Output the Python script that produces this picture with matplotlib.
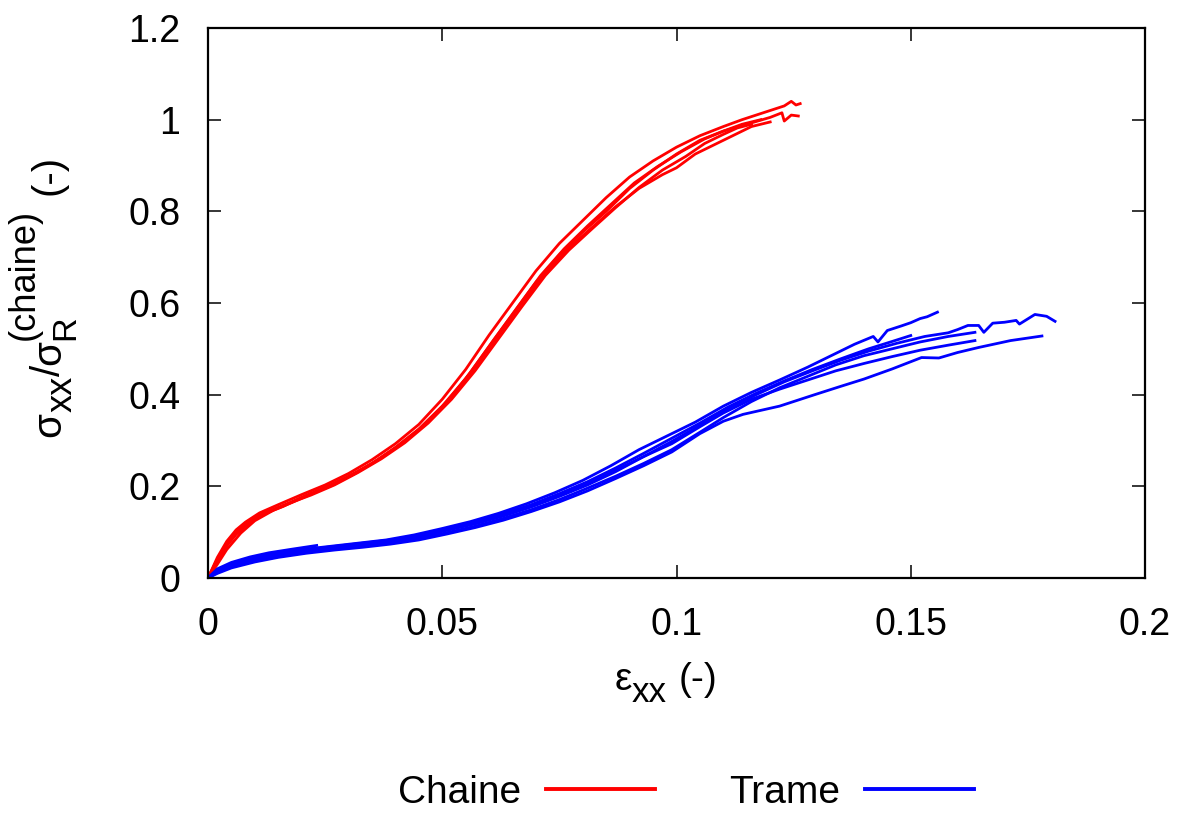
import matplotlib
matplotlib.use("Agg")
import matplotlib.pyplot as plt
from matplotlib.lines import Line2D

# --- donnees (courbes chaine = rouge, trame = bleu) ---
r1_x = [0, 0.002, 0.004, 0.006, 0.008, 0.011, 0.015, 0.02, 0.025, 0.03, 0.035, 0.04, 0.045, 0.05, 0.055,
        0.06, 0.065, 0.07, 0.075, 0.08, 0.085, 0.09, 0.095, 0.1, 0.105, 0.11, 0.114, 0.117, 0.12, 0.123,
        0.1245, 0.1255, 0.1264]
r1_y = [0, 0.045, 0.08, 0.105, 0.122, 0.142, 0.16, 0.182, 0.203, 0.228, 0.258, 0.293, 0.335, 0.39, 0.455,
        0.53, 0.60, 0.67, 0.73, 0.78, 0.83, 0.875, 0.91, 0.94, 0.965, 0.985, 1.0, 1.01, 1.02, 1.03,
        1.04, 1.032, 1.035]

r2_x = [0, 0.002, 0.004, 0.006, 0.009, 0.012, 0.016, 0.02, 0.025, 0.03, 0.035, 0.04, 0.045, 0.05, 0.055,
        0.06, 0.065, 0.07, 0.075, 0.08, 0.085, 0.09, 0.095, 0.1, 0.105, 0.11, 0.115, 0.12, 0.1225, 0.123,
        0.1245, 0.126]
r2_y = [0, 0.035, 0.07, 0.095, 0.122, 0.14, 0.156, 0.176, 0.198, 0.222, 0.25, 0.285, 0.325, 0.375, 0.435,
        0.505, 0.575, 0.645, 0.705, 0.755, 0.80, 0.85, 0.89, 0.925, 0.955, 0.975, 0.99, 1.005, 1.015, 0.997,
        1.01, 1.008]

r3_x = [0, 0.002, 0.004, 0.007, 0.01, 0.014, 0.018, 0.022, 0.027, 0.032, 0.037, 0.042, 0.047, 0.052, 0.057,
        0.062, 0.067, 0.072, 0.077, 0.082, 0.087, 0.092, 0.097, 0.1, 0.104, 0.108, 0.112, 0.116, 0.12]
r3_y = [0, 0.03, 0.062, 0.098, 0.125, 0.148, 0.165, 0.183, 0.205, 0.232, 0.262, 0.298, 0.34, 0.395, 0.46,
        0.53, 0.6, 0.665, 0.72, 0.765, 0.81, 0.85, 0.88, 0.895, 0.925, 0.945, 0.965, 0.985, 0.995]

r4_x = [0, 0.0015, 0.0035, 0.0055, 0.008, 0.012, 0.016, 0.021, 0.026, 0.031, 0.036, 0.041, 0.046, 0.051,
        0.056, 0.061, 0.066, 0.071, 0.076, 0.081, 0.086, 0.091, 0.096, 0.101, 0.106, 0.11, 0.114, 0.118]
r4_y = [0, 0.03, 0.066, 0.095, 0.118, 0.141, 0.158, 0.18, 0.2, 0.226, 0.256, 0.29, 0.332, 0.385,
        0.448, 0.52, 0.59, 0.66, 0.718, 0.768, 0.815, 0.862, 0.898, 0.93, 0.958, 0.975, 0.99, 1.0]

r5_x = [0, 0.002, 0.004, 0.006, 0.009, 0.013, 0.017, 0.022, 0.027, 0.032, 0.037, 0.042, 0.047, 0.052,
        0.057, 0.062, 0.067, 0.072, 0.077, 0.082, 0.087, 0.092, 0.097, 0.102, 0.106, 0.11, 0.113, 0.116]
r5_y = [0, 0.04, 0.072, 0.1, 0.127, 0.146, 0.162, 0.181, 0.203, 0.23, 0.26, 0.295, 0.338, 0.39,
        0.452, 0.522, 0.592, 0.66, 0.715, 0.762, 0.808, 0.852, 0.89, 0.92, 0.948, 0.968, 0.982, 0.99]

bA_x = [0, 0.002, 0.005, 0.009, 0.014, 0.02, 0.026, 0.032, 0.038, 0.044, 0.05, 0.056, 0.062, 0.068, 0.074,
        0.08, 0.086, 0.092, 0.098, 0.104, 0.11, 0.116, 0.122, 0.128, 0.134, 0.138, 0.142, 0.143, 0.145,
        0.148, 0.15, 0.152, 0.1535, 0.1557]
bA_y = [0, 0.017, 0.03, 0.042, 0.053, 0.062, 0.069, 0.076, 0.083, 0.094, 0.108, 0.123, 0.141, 0.162, 0.186,
        0.213, 0.245, 0.28, 0.31, 0.34, 0.375, 0.405, 0.432, 0.46, 0.49, 0.51, 0.527, 0.515, 0.54,
        0.55, 0.557, 0.566, 0.57, 0.58]

bB_x = [0, 0.002, 0.005, 0.01, 0.015, 0.021, 0.027, 0.033, 0.039, 0.045, 0.051, 0.057, 0.063, 0.069, 0.075,
        0.081, 0.087, 0.093, 0.099, 0.105, 0.111, 0.117, 0.123, 0.129, 0.135, 0.141, 0.147, 0.153, 0.158,
        0.16, 0.1622, 0.1645, 0.1656, 0.1675, 0.170, 0.1725, 0.1732, 0.1765, 0.179, 0.1808]
bB_y = [0, 0.014, 0.027, 0.04, 0.05, 0.059, 0.066, 0.073, 0.08, 0.09, 0.104, 0.118, 0.135, 0.155, 0.178,
        0.203, 0.232, 0.265, 0.298, 0.333, 0.37, 0.4, 0.428, 0.452, 0.475, 0.495, 0.512, 0.527, 0.535,
        0.542, 0.551, 0.551, 0.536, 0.556, 0.558, 0.562, 0.554, 0.575, 0.571, 0.56]

bC_x = [0, 0.002, 0.005, 0.01, 0.015, 0.021, 0.027, 0.033, 0.039, 0.045, 0.051, 0.057, 0.063, 0.069, 0.075,
        0.081, 0.087, 0.093, 0.099, 0.105, 0.11, 0.1142, 0.122, 0.1295, 0.135, 0.14, 0.146, 0.1523, 0.156,
        0.16, 0.1645, 0.1713, 0.178]
bC_y = [0, 0.01, 0.022, 0.035, 0.045, 0.054, 0.061, 0.067, 0.074, 0.083, 0.096, 0.11, 0.126, 0.145, 0.166,
        0.19, 0.217, 0.245, 0.275, 0.315, 0.342, 0.357, 0.375, 0.40, 0.418, 0.434, 0.456, 0.481, 0.48,
        0.492, 0.503, 0.518, 0.528]

bD_x = [0, 0.002, 0.005, 0.01, 0.015, 0.021, 0.027, 0.033, 0.039, 0.045, 0.051, 0.057, 0.063, 0.069, 0.075,
        0.081, 0.087, 0.093, 0.099, 0.105, 0.11, 0.116, 0.122, 0.128, 0.134, 0.14, 0.146, 0.152, 0.158, 0.1637]
bD_y = [0, 0.012, 0.025, 0.037, 0.047, 0.056, 0.063, 0.07, 0.077, 0.086, 0.099, 0.113, 0.13, 0.149, 0.171,
        0.196, 0.222, 0.25, 0.28, 0.318, 0.35, 0.385, 0.415, 0.44, 0.465, 0.485, 0.5, 0.515, 0.527, 0.536]

bE_x = [0, 0.002, 0.005, 0.01, 0.015, 0.021, 0.027, 0.033, 0.039, 0.045, 0.051, 0.057, 0.063, 0.069, 0.075,
        0.081, 0.087, 0.093, 0.099, 0.105, 0.11, 0.116, 0.122, 0.128, 0.134, 0.14, 0.146, 0.152, 0.158, 0.1637]
bE_y = [0, 0.016, 0.029, 0.041, 0.051, 0.06, 0.067, 0.074, 0.081, 0.091, 0.105, 0.12, 0.138, 0.158, 0.18,
        0.205, 0.235, 0.265, 0.293, 0.33, 0.36, 0.39, 0.412, 0.432, 0.452, 0.468, 0.483, 0.497, 0.508, 0.518]

bF_x = [0, 0.002, 0.005, 0.01, 0.015, 0.021, 0.027, 0.033, 0.039, 0.045, 0.051, 0.057, 0.063, 0.069, 0.075,
        0.081, 0.087, 0.093, 0.099, 0.105, 0.111, 0.117, 0.123, 0.129, 0.135, 0.141, 0.146, 0.15]
bF_y = [0, 0.018, 0.031, 0.043, 0.053, 0.062, 0.069, 0.076, 0.083, 0.093, 0.107, 0.122, 0.14, 0.16, 0.184,
        0.21, 0.24, 0.272, 0.305, 0.338, 0.373, 0.403, 0.43, 0.455, 0.478, 0.5, 0.516, 0.529]

bG_x = [0, 0.002, 0.005, 0.009, 0.013, 0.018, 0.0232]
bG_y = [0, 0.02, 0.034, 0.046, 0.055, 0.063, 0.071]

chaine = [(r1_x, r1_y), (r2_x, r2_y), (r3_x, r3_y), (r4_x, r4_y), (r5_x, r5_y)]
trame = [(bA_x, bA_y), (bB_x, bB_y), (bC_x, bC_y), (bD_x, bD_y), (bE_x, bE_y), (bF_x, bF_y), (bG_x, bG_y)]

xticks = [0, 0.05, 0.1, 0.15, 0.2]
xticklabels = ["0", "0.05", "0.1", "0.15", "0.2"]
yticks = [0, 0.2, 0.4, 0.6, 0.8, 1.0, 1.2]
yticklabels = ["0", "0.2", "0.4", "0.6", "0.8", "1", "1.2"]

plt.rcParams['font.family'] = ['Liberation Sans', 'DejaVu Sans']

W, H = 1186, 814
fig = plt.figure(figsize=(W / 100, H / 100), dpi=100)
ax = fig.add_axes([208/W, 1 - 578/H, (1145-208)/W, (578-28)/H])

for x, y in chaine:
    ax.plot(x, y, color="#ff0000", lw=2.0)
for x, y in trame:
    ax.plot(x, y, color="#0000ff", lw=2.0)

ax.set_xlim(0, 0.2)
ax.set_ylim(0, 1.2)
ax.set_xticks(xticks)
ax.set_xticklabels(xticklabels)
ax.set_yticks(yticks)
ax.set_yticklabels(yticklabels)
ax.tick_params(direction="in", length=9.5, width=1.1, top=True, right=True, labelsize=27)
ax.tick_params(axis="x", pad=21)
ax.tick_params(axis="y", pad=20)
for s in ax.spines.values():
    s.set_linewidth(1.6)


# texte facon gnuplot : indices / exposants presque pleine taille
def gp_label(groups, center, base, fs, vertical):
    r = fig.canvas.get_renderer()
    em = fs * 100 / 72
    items = []
    pos = 0.0
    for group, gap in groups:
        adv = 0
        for txt, sc, sh in group:
            t = fig.text(0, 0, txt, fontsize=fs * sc, ha="left", va="baseline",
                         rotation=90 if vertical else 0, rotation_mode="anchor")
            bb = t.get_window_extent(r)
            adv = max(adv, bb.height if vertical else bb.width)
            items.append((t, pos, sh * em))
        pos += adv + gap * em
    start = center - pos / 2
    for t, p, s in items:
        if vertical:
            t.set_position(((base - s) / W, (start + p) / H))
        else:
            t.set_position(((start + p) / W, (base + s) / H))


gp_label([([("ε", 1, 0)], 0), ([("xx", 0.9, -0.3)], 0.3), ([("(-)", 1, 0)], 0)],
         center=666, base=H - 690, fs=28, vertical=False)
gp_label([([("σ", 1, 0)], 0), ([("xx", 0.9, -0.3)], 0), ([("/", 1, 0)], 0), ([("σ", 1, 0)], 0),
          ([("R", 0.85, -0.35), ("(chaine)", 0.9, 0.65)], 0.35), ([("(-)", 1, 0)], 0)],
         center=H - 296, base=60, fs=29, vertical=True)

handles = [Line2D([], [], color="#ff0000", lw=2.8), Line2D([], [], color="#0000ff", lw=2.8)]
fig.legend(handles, ["Chaine", "Trame"], loc="center", bbox_to_anchor=(686/W, 21/H), ncol=2,
           frameon=False, markerfirst=False, fontsize=28, handlelength=2.8, columnspacing=1.9,
           handletextpad=0.65, borderpad=0.2)

plt.savefig("out.png", dpi=100)
